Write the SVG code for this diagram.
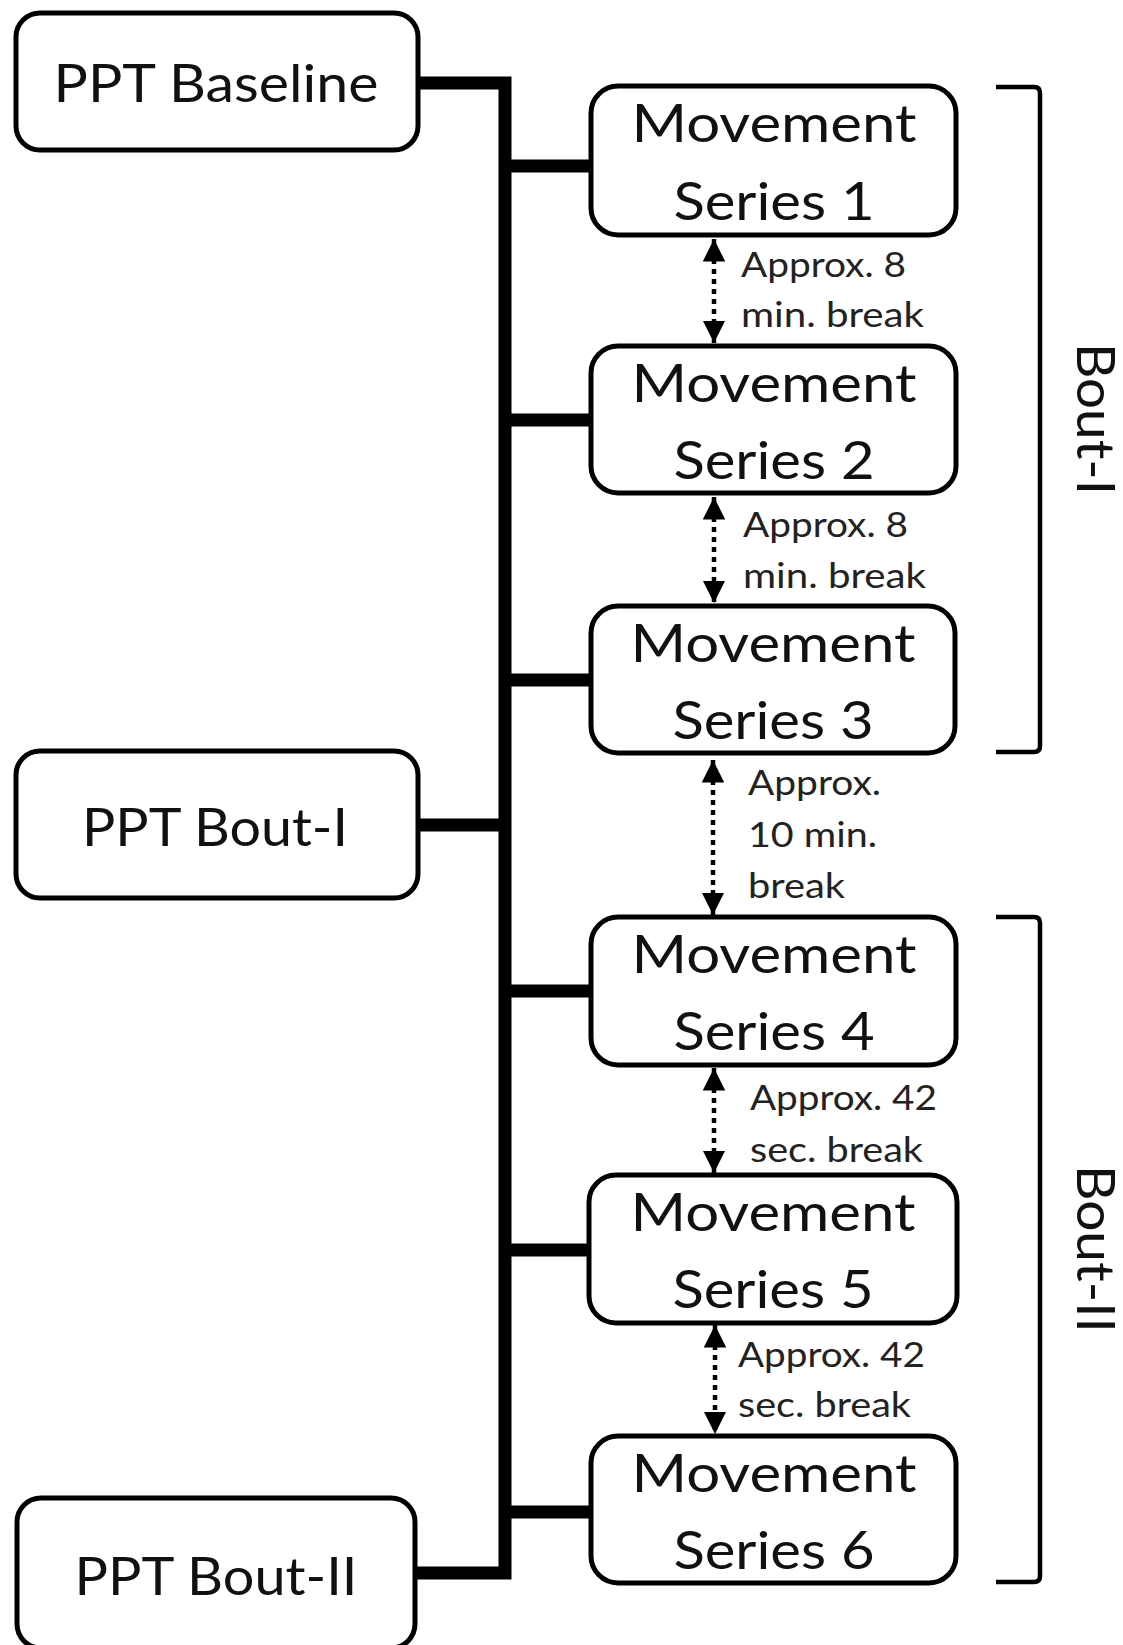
<svg xmlns="http://www.w3.org/2000/svg" width="1123" height="1645" viewBox="0 0 1123 1645">
<style>
.box{fill:#fff;stroke:#000;stroke-width:5}
.t{font-family:Lato,"Open Sans","Liberation Sans",sans-serif;font-size:53px;fill:#111;text-anchor:middle}
.l{font-family:Lato,"Open Sans","Liberation Sans",sans-serif;font-size:34px;fill:#222}
.thick{fill:none;stroke:#000;stroke-width:13;stroke-linejoin:miter}
.dot{fill:none;stroke:#000;stroke-width:4.5;stroke-dasharray:5 5}
.br{fill:none;stroke:#000;stroke-width:4.5}
</style>
<defs>
<marker id="ah" viewBox="0 0 10 10" refX="10" refY="5" markerWidth="5" markerHeight="5" markerUnits="strokeWidth" orient="auto-start-reverse">
<path d="M0,0 L10,5 L0,10 z" fill="#000"/>
</marker>
</defs>
<g id="connectors">
<path class="thick" d="M418,83 H505 V1573 H415"/>
<path class="thick" d="M505,825 H418"/>
<path class="thick" d="M505,166 H591"/>
<path class="thick" d="M505,420 H591"/>
<path class="thick" d="M505,680 H591"/>
<path class="thick" d="M505,991 H591"/>
<path class="thick" d="M505,1250 H591"/>
<path class="thick" d="M505,1512 H591"/>
<line class="dot" x1="714" y1="239" x2="714" y2="343" marker-start="url(#ah)" marker-end="url(#ah)"/>
<line class="dot" x1="714" y1="497" x2="714" y2="603" marker-start="url(#ah)" marker-end="url(#ah)"/>
<line class="dot" x1="713" y1="760" x2="713" y2="915" marker-start="url(#ah)" marker-end="url(#ah)"/>
<line class="dot" x1="714" y1="1068" x2="714" y2="1173" marker-start="url(#ah)" marker-end="url(#ah)"/>
<line class="dot" x1="715" y1="1325" x2="715" y2="1434" marker-start="url(#ah)" marker-end="url(#ah)"/>
</g>
<g id="ppt-baseline">
<rect class="box" x="16" y="13" width="402" height="137" rx="24"/>
<text class="t" x="216" y="102" textLength="325" lengthAdjust="spacingAndGlyphs">PPT Baseline</text>
</g>
<g id="ppt-bout-1">
<rect class="box" x="16" y="751" width="402" height="147" rx="24"/>
<text class="t" x="215" y="846" textLength="266" lengthAdjust="spacingAndGlyphs">PPT Bout-I</text>
</g>
<g id="ppt-bout-2">
<rect class="box" x="17" y="1498" width="398" height="150" rx="24"/>
<text class="t" x="216" y="1595" textLength="283" lengthAdjust="spacingAndGlyphs">PPT Bout-II</text>
</g>
<g id="ms1">
<rect class="box" x="591" y="86" width="365" height="149" rx="27"/>
<text class="t" x="774" y="142" textLength="285" lengthAdjust="spacingAndGlyphs">Movement</text>
<text class="t" x="774" y="220" textLength="201" lengthAdjust="spacingAndGlyphs">Series 1</text>
</g>
<g id="ms2">
<rect class="box" x="591" y="346" width="365" height="147" rx="27"/>
<text class="t" x="774" y="402" textLength="285" lengthAdjust="spacingAndGlyphs">Movement</text>
<text class="t" x="774" y="479" textLength="201" lengthAdjust="spacingAndGlyphs">Series 2</text>
</g>
<g id="ms3">
<rect class="box" x="591" y="606" width="364" height="147" rx="27"/>
<text class="t" x="773" y="662" textLength="285" lengthAdjust="spacingAndGlyphs">Movement</text>
<text class="t" x="773" y="739" textLength="201" lengthAdjust="spacingAndGlyphs">Series 3</text>
</g>
<g id="ms4">
<rect class="box" x="591" y="917" width="365" height="148" rx="27"/>
<text class="t" x="774" y="973" textLength="285" lengthAdjust="spacingAndGlyphs">Movement</text>
<text class="t" x="774" y="1050" textLength="201" lengthAdjust="spacingAndGlyphs">Series 4</text>
</g>
<g id="ms5">
<rect class="box" x="589" y="1175" width="368" height="148" rx="27"/>
<text class="t" x="773" y="1231" textLength="285" lengthAdjust="spacingAndGlyphs">Movement</text>
<text class="t" x="773" y="1308" textLength="201" lengthAdjust="spacingAndGlyphs">Series 5</text>
</g>
<g id="ms6">
<rect class="box" x="591" y="1436" width="365" height="147" rx="27"/>
<text class="t" x="774" y="1492" textLength="285" lengthAdjust="spacingAndGlyphs">Movement</text>
<text class="t" x="774" y="1569" textLength="201" lengthAdjust="spacingAndGlyphs">Series 6</text>
</g>
<g id="labels">
<text class="l" x="741" y="277" textLength="165" lengthAdjust="spacingAndGlyphs">Approx. 8</text>
<text class="l" x="741" y="327" textLength="183" lengthAdjust="spacingAndGlyphs">min. break</text>
<text class="l" x="743" y="537" textLength="165" lengthAdjust="spacingAndGlyphs">Approx. 8</text>
<text class="l" x="743" y="588" textLength="183" lengthAdjust="spacingAndGlyphs">min. break</text>
<text class="l" x="748" y="795" textLength="133" lengthAdjust="spacingAndGlyphs">Approx.</text>
<text class="l" x="748" y="847" textLength="129" lengthAdjust="spacingAndGlyphs">10 min.</text>
<text class="l" x="748" y="898" textLength="97" lengthAdjust="spacingAndGlyphs">break</text>
<text class="l" x="750" y="1110" textLength="187" lengthAdjust="spacingAndGlyphs">Approx. 42</text>
<text class="l" x="750" y="1162" textLength="173" lengthAdjust="spacingAndGlyphs">sec. break</text>
<text class="l" x="738" y="1367" textLength="187" lengthAdjust="spacingAndGlyphs">Approx. 42</text>
<text class="l" x="738" y="1417" textLength="173" lengthAdjust="spacingAndGlyphs">sec. break</text>
</g>
<g id="bout-1">
<path class="br" d="M996,87 H1034 Q1040,87 1040,93 V746 Q1040,752 1034,752 H996"/>
<text class="t" transform="translate(1077,419) rotate(90)" textLength="152" lengthAdjust="spacingAndGlyphs">Bout-I</text>
</g>
<g id="bout-2">
<path class="br" d="M996,917 H1034 Q1040,917 1040,923 V1576 Q1040,1582 1034,1582 H996"/>
<text class="t" transform="translate(1077,1249) rotate(90)" textLength="168" lengthAdjust="spacingAndGlyphs">Bout-II</text>
</g>
</svg>
